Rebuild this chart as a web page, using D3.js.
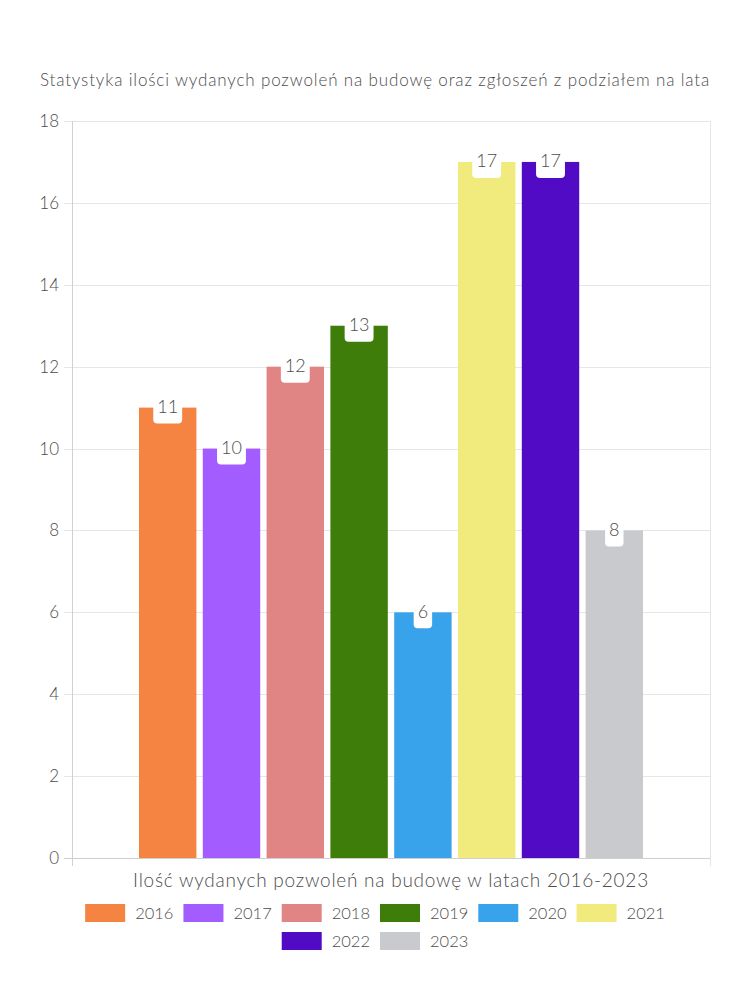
<!DOCTYPE html>
<html><head><meta charset="utf-8">
<script src="https://cdn.jsdelivr.net/npm/d3@7"></script>
<style>body{margin:0;background:#fff;} svg{display:block;} text{font-weight:300;}</style>
</head><body>
<svg id="c" width="750" height="1000"></svg>
<script>
const years = ["2016","2017","2018","2019","2020","2021","2022","2023"];
const values = [11,10,12,13,6,17,17,8];
const colors = ["#F58442","#A25CFF","#E08484","#3F7D0B","#38A3EB","#F0EB7C","#520BC4","#C9CACD"];
const yTicks = [0,2,4,6,8,10,12,14,16,18];
const title = "Statystyka ilości wydanych pozwoleń na budowę oraz zgłoszeń z podziałem na lata";
const xTitle = "Ilość wydanych pozwoleń na budowę w latach 2016-2023";

const FONT = "Lato, 'Noto Sans', sans-serif";
const TXT = "#4d4d4d";
const svg = d3.select("#c");
const L = 72, R = 710, T = 121, B = 858;
const y = d3.scaleLinear().domain([0,18]).range([B,T]);
const cat = d3.scaleBand().domain(["all"]).range([L,R]).paddingInner(0).paddingOuter(0.125);
const x = d3.scaleBand().domain(years).range([cat("all"), cat("all")+cat.bandwidth()])
  .paddingInner(0.1).paddingOuter(0.05);

// title
svg.append("text").attr("x",375).attr("y",86).attr("text-anchor","middle")
  .attr("font-family",FONT).attr("font-size",17).attr("letter-spacing",0.85).attr("fill",TXT).text(title);

// grid
const g = svg.append("g");
g.selectAll("line.grid").data(yTicks).join("line")
  .attr("x1",L-8).attr("x2",R).attr("y1",d=>Math.round(y(d))+0.5).attr("y2",d=>Math.round(y(d))+0.5)
  .attr("stroke",d=>d===0?"#cfcfcf":"#e6e6e6").attr("stroke-width",1);
g.append("line").attr("x1",L+0.5).attr("x2",L+0.5).attr("y1",T).attr("y2",B+8).attr("stroke","#d0d0d0");
g.append("line").attr("x1",R+0.5).attr("x2",R+0.5).attr("y1",T).attr("y2",B+8).attr("stroke","#e6e6e6");
g.selectAll("text.tick").data(yTicks).join("text")
  .attr("x",L-13).attr("y",d=>y(d)).attr("dy","0.35em").attr("text-anchor","end")
  .attr("font-family",FONT).attr("font-size",17).attr("fill",TXT).text(d=>d);

// bars
const bars = svg.append("g");
bars.selectAll("rect").data(years).join("rect")
  .attr("x",d=>x(d)).attr("width",x.bandwidth())
  .attr("y",(d,i)=>y(values[i])).attr("height",(d,i)=>B-y(values[i]))
  .attr("fill",(d,i)=>colors[i]);

// labels
const lab = svg.append("g");
years.forEach((d,i)=>{
  const cx = x(d)+x.bandwidth()/2, top = y(values[i]);
  const t = lab.append("text").attr("x",cx).attr("y",top+5.5).attr("text-anchor","middle")
    .attr("font-family",FONT).attr("font-size",18).attr("fill",TXT).text(values[i]);
  const w = t.node().getComputedTextLength()+8;
  lab.insert("rect","text").attr("x",cx-w/2).attr("y",top-14).attr("width",w).attr("height",30)
    .attr("rx",4).attr("fill","#fff");
});
lab.selectAll("text").raise();

// x title
svg.append("text").attr("x",(L+R)/2).attr("y",887).attr("text-anchor","middle")
  .attr("font-family",FONT).attr("font-size",19).attr("letter-spacing",0.75).attr("fill",TXT).text(xTitle);

// legend
const leg = svg.append("g");
const boxW = 40, boxH = 18, fs = 16.5, pad = 10;
const tmp = svg.append("text").attr("font-family",FONT).attr("font-size",fs);
const widths = years.map(t=>{tmp.text(t); return boxW + 10 + tmp.node().getComputedTextLength();});
tmp.remove();
const rows = []; let cur = [], curW = 0;
widths.forEach((w,i)=>{
  const add = w + (cur.length? pad : 0);
  if (curW + add > 650 && cur.length) { rows.push({items:cur,w:curW}); cur=[]; curW=0; }
  curW += w + (cur.length? pad:0); cur.push(i);
});
rows.push({items:cur,w:curW});
rows.forEach((r,ri)=>{
  let xx = 375 - r.w/2;
  const yy = 904 + ri*28;
  r.items.forEach(i=>{
    leg.append("rect").attr("x",xx).attr("y",yy).attr("width",boxW).attr("height",boxH).attr("fill",colors[i]);
    leg.append("text").attr("x",xx+boxW+10).attr("y",yy+boxH/2).attr("dy","0.35em")
      .attr("font-family",FONT).attr("font-size",fs).attr("fill",TXT).text(years[i]);
    xx += widths[i] + pad;
  });
});
</script>
</body></html>
